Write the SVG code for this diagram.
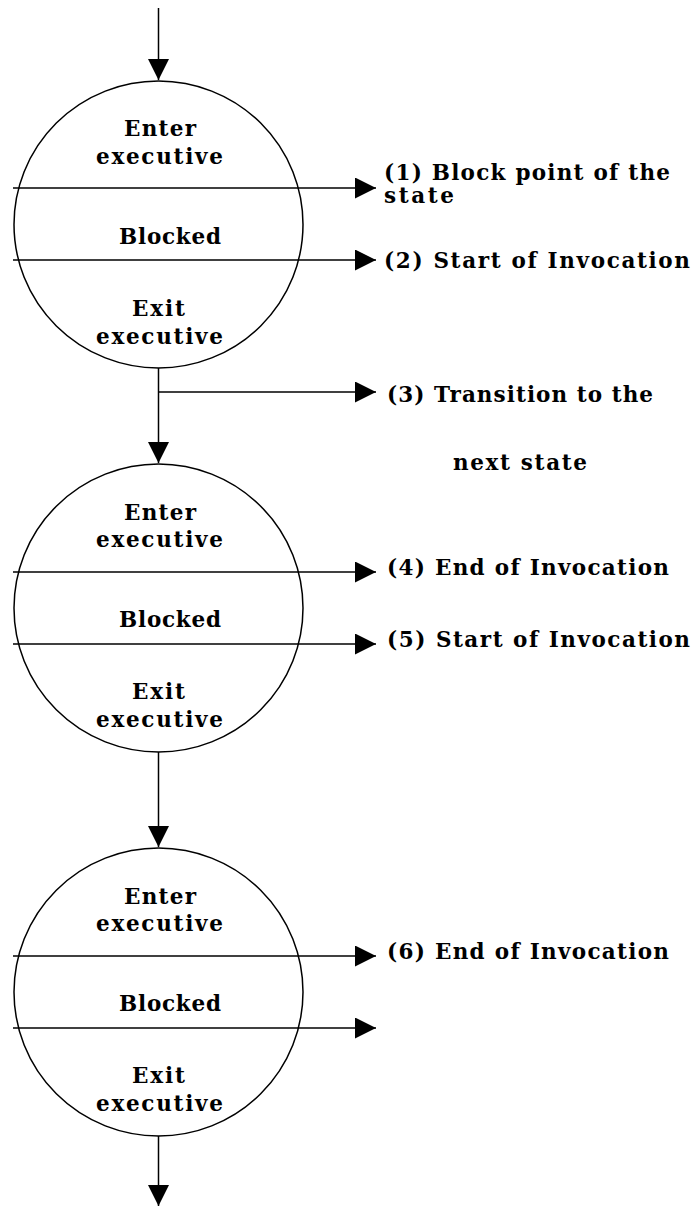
<svg xmlns="http://www.w3.org/2000/svg" width="692" height="1206" viewBox="0 0 692 1206">
<style>
  .ln{stroke:#000;stroke-width:1.5;fill:none}
  .st{stroke:#000;stroke-width:1.5;fill:#fff}
  text{font-family:"DejaVu Serif","Liberation Serif",serif;font-weight:bold;font-size:21.5px;fill:#000}
  .c{text-anchor:middle}
</style>
<defs>
  <marker id="ah" markerUnits="userSpaceOnUse" viewBox="0 0 21 21" refX="21" refY="10.5" markerWidth="21" markerHeight="21" orient="auto">
    <path d="M0,0 L21,10.5 L0,21 Z" fill="#000"/>
  </marker>
</defs>
<g id="connectors">
  <line class="ln" x1="158.5" y1="8" x2="158.5" y2="80" marker-end="url(#ah)"/>
  <line class="ln" x1="158.5" y1="368" x2="158.5" y2="463" marker-end="url(#ah)"/>
  <line class="ln" x1="158.5" y1="392" x2="376" y2="392" marker-end="url(#ah)"/>
  <line class="ln" x1="158.5" y1="752" x2="158.5" y2="847" marker-end="url(#ah)"/>
  <line class="ln" x1="158.5" y1="1136" x2="158.5" y2="1206" marker-end="url(#ah)"/>
</g>
<g id="state1">
  <ellipse class="st" cx="158.5" cy="224.5" rx="144.5" ry="143.5"/>
  <line class="ln" x1="13" y1="188" x2="376" y2="188" marker-end="url(#ah)"/>
  <line class="ln" x1="13" y1="260" x2="376" y2="260" marker-end="url(#ah)"/>
  <text class="c" x="160" y="136" textLength="72" lengthAdjust="spacing">Enter</text>
  <text class="c" x="159.5" y="164" textLength="127" lengthAdjust="spacing">executive</text>
  <text class="c" x="170" y="244" textLength="102" lengthAdjust="spacing">Blocked</text>
  <text class="c" x="158.5" y="316" textLength="53" lengthAdjust="spacing">Exit</text>
  <text class="c" x="159.5" y="344" textLength="127" lengthAdjust="spacing">executive</text>
</g>
<g id="state2">
  <ellipse class="st" cx="158.5" cy="608" rx="144.5" ry="144"/>
  <line class="ln" x1="13" y1="572" x2="376" y2="572" marker-end="url(#ah)"/>
  <line class="ln" x1="13" y1="644" x2="376" y2="644" marker-end="url(#ah)"/>
  <text class="c" x="160" y="520" textLength="72" lengthAdjust="spacing">Enter</text>
  <text class="c" x="159.5" y="547" textLength="127" lengthAdjust="spacing">executive</text>
  <text class="c" x="170" y="627" textLength="102" lengthAdjust="spacing">Blocked</text>
  <text class="c" x="158.5" y="699" textLength="53" lengthAdjust="spacing">Exit</text>
  <text class="c" x="159.5" y="727" textLength="127" lengthAdjust="spacing">executive</text>
</g>
<g id="state3">
  <ellipse class="st" cx="158.5" cy="992" rx="144.5" ry="144"/>
  <line class="ln" x1="13" y1="956" x2="376" y2="956" marker-end="url(#ah)"/>
  <line class="ln" x1="13" y1="1028" x2="376" y2="1028" marker-end="url(#ah)"/>
  <text class="c" x="160" y="904" textLength="72" lengthAdjust="spacing">Enter</text>
  <text class="c" x="159.5" y="931" textLength="127" lengthAdjust="spacing">executive</text>
  <text class="c" x="170" y="1011" textLength="102" lengthAdjust="spacing">Blocked</text>
  <text class="c" x="158.5" y="1083" textLength="53" lengthAdjust="spacing">Exit</text>
  <text class="c" x="159.5" y="1111" textLength="127" lengthAdjust="spacing">executive</text>
</g>
<g id="labels">
  <text x="384" y="180" textLength="286" lengthAdjust="spacing">(1) Block point of the</text>
  <text x="384" y="203" textLength="70" lengthAdjust="spacing">state</text>
  <text x="384" y="268" textLength="306" lengthAdjust="spacing">(2) Start of Invocation</text>
  <text x="387" y="402" textLength="266" lengthAdjust="spacing">(3) Transition to the</text>
  <text x="453" y="470" textLength="134" lengthAdjust="spacing">next state</text>
  <text x="387" y="575" textLength="282" lengthAdjust="spacing">(4) End of Invocation</text>
  <text x="387" y="647" textLength="303" lengthAdjust="spacing">(5) Start of Invocation</text>
  <text x="387" y="959" textLength="282" lengthAdjust="spacing">(6) End of Invocation</text>
</g>
</svg>
